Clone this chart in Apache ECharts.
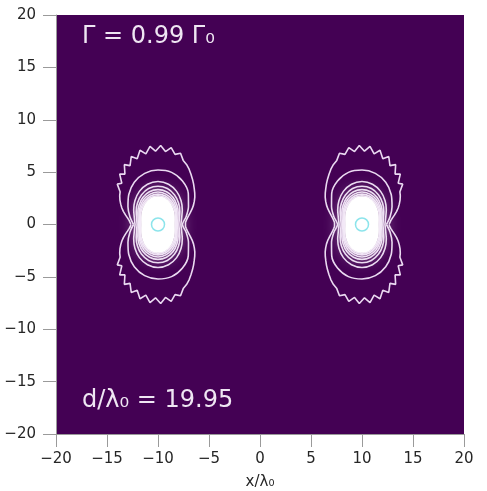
<!DOCTYPE html>
<html>
<head>
<meta charset="utf-8">
<title>两偶极子辐射等值线</title>
<script src="https://cdn.jsdelivr.net/npm/echarts@6/dist/echarts.min.js"></script>
<style>
    html, body { margin: 0; padding: 0; background: #ffffff; }
    #container { width: 487px; height: 491px; }
</style>
</head>
<body>
<div id="container"></div>
<script>
    // emitter positions (x/λ0), both on y = 0
    var centresX = [-10, 10];
    var axisTicks = [-20, -15, -10, -5, 0, 5, 10, 15, 20];

    // contour radii around the right-hand emitter, upper half,
    // angle in degrees from the outward (+x) direction; left emitter is the mirror
    var innerAngles = [0, 15, 30, 45, 60, 75, 90];
    var innerRadii = [
        [2.25, 2.40, 2.75, 3.20, 3.65, 3.98, 4.10],
        [2.05, 2.17, 2.47, 2.86, 3.25, 3.55, 3.65],
        [1.92, 2.02, 2.28, 2.62, 2.98, 3.24, 3.33],
        [1.82, 1.90, 2.14, 2.45, 2.77, 3.00, 3.10],
        [1.74, 1.82, 2.04, 2.32, 2.60, 2.82, 2.90],
        [1.67, 1.74, 1.95, 2.20, 2.46, 2.66, 2.74]
    ];
    var coreRadii = [1.62, 1.70, 1.88, 2.12, 2.40, 2.62, 2.70];

    var midAngles = [0, 15, 30, 45, 60, 75, 90, 105, 120, 135, 150, 165, 180];
    var midRadii = [2.40, 2.85, 3.40, 4.05, 4.65, 5.05, 5.20, 5.15, 4.80, 4.20, 3.45, 2.85, 2.40];

    var outerAngles = [0, 4, 8, 12, 16, 20, 24, 28, 32, 36, 40, 44, 48, 52, 56, 60, 64, 68, 72, 76, 80, 84, 88,
        92, 96, 100, 104, 108, 112, 116, 120, 124, 128, 132, 136, 140, 144, 148, 152, 156, 160, 164, 168, 172, 176, 180];
    var outerRadii = [2.65, 2.72, 2.86, 3.06, 3.32, 3.60, 3.88, 4.14, 4.40, 4.64, 4.85, 5.55, 5.30, 6.10, 5.80, 6.60,
        6.25, 7.00, 6.60, 7.30, 6.85, 7.50, 7.00, 7.55, 7.00, 7.45, 6.90, 7.15, 6.60, 6.38, 6.10, 5.78, 5.49, 5.21,
        4.94, 4.70, 4.46, 4.20, 3.94, 3.66, 3.38, 3.14, 2.94, 2.80, 2.70, 2.65];

    var lineColor = '#ead9f1';

    // turn a half profile into a closed loop of [x, y] around one emitter
    function loopPoints(angles, radii, cx) {
        var half = [];
        var i;
        for (i = 0; i < angles.length; i++) half.push([angles[i], radii[i]]);
        if (angles[angles.length - 1] === 90) {
            for (i = angles.length - 2; i >= 0; i--) half.push([180 - angles[i], radii[i]]);
        }
        var s = cx > 0 ? 1 : -1;
        var pts = [];
        half.forEach(function (p) {
            var t = p[0] * Math.PI / 180;
            pts.push([cx + s * p[1] * Math.cos(t), p[1] * Math.sin(t)]);
        });
        for (i = half.length - 2; i >= 0; i--) {
            var t2 = half[i][0] * Math.PI / 180;
            pts.push([cx + s * half[i][1] * Math.cos(t2), -half[i][1] * Math.sin(t2)]);
        }
        return pts;
    }

    function contourSeries(pts, smooth) {
        return {
            type: 'line',
            data: pts,
            showSymbol: false,
            smooth: smooth,
            silent: true,
            z: 3,
            lineStyle: {color: lineColor, width: 1.6}
        };
    }

    var series = [];

    // white core where the contours pile up
    series.push({
        type: 'custom',
        data: centresX.map(function (c) { return [c, 0]; }),
        z: 4,
        silent: true,
        renderItem: function (params, api) {
            var cx = api.value(0);
            var pts = loopPoints(innerAngles, coreRadii, cx).map(function (p) {
                return api.coord(p);
            });
            return {
                type: 'polygon',
                shape: {points: pts, smooth: 0.3},
                style: {fill: '#ffffff', shadowBlur: 20, shadowColor: 'rgba(255,255,255,1)'}
            };
        }
    });

    centresX.forEach(function (cx) {
        series.push(contourSeries(loopPoints(outerAngles, outerRadii, cx), false));
        series.push(contourSeries(loopPoints(midAngles, midRadii, cx), 0.3));
        innerRadii.forEach(function (r) {
            series.push(contourSeries(loopPoints(innerAngles, r, cx), 0.3));
        });
    });

    // emitters
    series.push({
        type: 'scatter',
        data: centresX.map(function (c) { return [c, 0]; }),
        symbol: 'circle',
        symbolSize: 13,
        z: 5,
        silent: true,
        itemStyle: {color: 'rgba(0,0,0,0)', borderColor: '#6fdde6', borderWidth: 1.5}
    });

    function minusLabel(v) {
        return v < 0 ? '\u2212' + (-v) : String(v);
    }

    var axisCommon = {
        type: 'value',
        min: axisTicks[0],
        max: axisTicks[axisTicks.length - 1],
        interval: 5,
        axisLine: {show: true, onZero: false, lineStyle: {color: '#9a9a9a', width: 1}},
        axisTick: {show: true, length: 13, lineStyle: {color: '#9a9a9a', width: 1}},
        splitLine: {show: false},
        axisLabel: {
            color: '#262626',
            fontSize: 15,
            fontFamily: 'DejaVu Sans',
            formatter: minusLabel
        }
    };

    var myChart = echarts.init(document.getElementById('container'), null, {renderer: 'canvas'});
    var option = {
        animation: false,
        backgroundColor: '#ffffff',
        grid: {
            left: 56, right: 23, top: 15, bottom: 57,
            show: true, backgroundColor: '#440154', borderWidth: 0,
            containLabel: false, outerBoundsMode: 'none'
        },
        xAxis: echarts.util.merge({
            name: 'x/λ₀',
            nameLocation: 'middle',
            nameGap: 41,
            nameTextStyle: {color: '#262626', fontSize: 15, fontFamily: 'DejaVu Sans'},
            axisLabel: {margin: 18}
        }, axisCommon),
        yAxis: echarts.util.merge({
            axisLabel: {margin: 20}
        }, axisCommon),
        graphic: [
            {
                type: 'text', left: 82, top: 25, z: 10,
                style: {text: 'Γ = 0.99 Γ₀', fill: '#efe6f3', font: '24px "DejaVu Sans"'}
            },
            {
                type: 'text', left: 82, top: 389, z: 10,
                style: {text: 'd/λ₀ = 19.95', fill: '#efe6f3', font: '24px "DejaVu Sans"'}
            }
        ],
        series: series
    };
    myChart.setOption(option, true);
</script>
</body>
</html>
